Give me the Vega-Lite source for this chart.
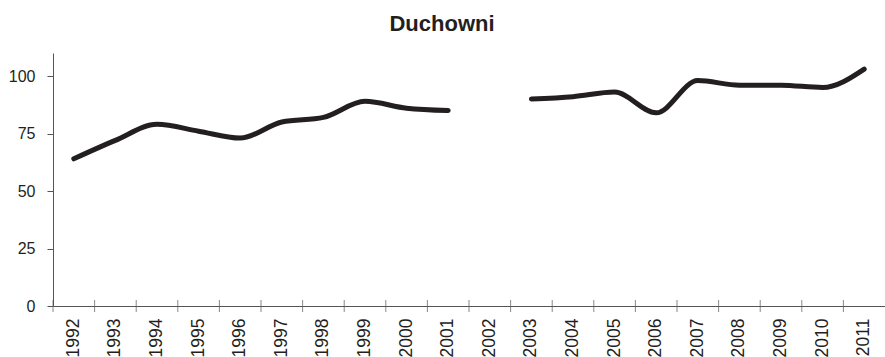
{
  "$schema": "https://vega.github.io/schema/vega-lite/v6.json",
  "width": 832,
  "height": 253,
  "autosize": "none",
  "padding": {"left": 53, "top": 53, "right": 0, "bottom": 51},
  "background": "white",
  "view": {"stroke": null},
  "title": {"text": "Duchowni", "font": "Liberation Sans", "fontSize": 22, "fontWeight": "bold", "color": "#231f20", "anchor": "middle", "offset": 17, "dx": -27},
  "data": {"values": [
    {"year": "1992", "value": 64},
    {"year": "1993", "value": 72},
    {"year": "1994", "value": 79},
    {"year": "1995", "value": 76},
    {"year": "1996", "value": 73},
    {"year": "1997", "value": 80},
    {"year": "1998", "value": 82},
    {"year": "1999", "value": 89},
    {"year": "2000", "value": 86},
    {"year": "2001", "value": 85},
    {"year": "2002", "value": null},
    {"year": "2003", "value": 90},
    {"year": "2004", "value": 91},
    {"year": "2005", "value": 93},
    {"year": "2006", "value": 84},
    {"year": "2007", "value": 98},
    {"year": "2008", "value": 96},
    {"year": "2009", "value": 96},
    {"year": "2010", "value": 95},
    {"year": "2011", "value": 103}
  ]},
  "encoding": {
    "x": {
      "field": "year", "type": "ordinal",
      "scale": {"type": "band", "paddingInner": 0, "paddingOuter": 0},
      "axis": {"title": null, "labelAngle": -90, "ticks": false, "labelFont": "Liberation Sans", "labelFontSize": 17.5, "labelColor": "#231f20", "domainColor": "#555", "labelPadding": 12}
    }
  },
  "layer": [
    {
      "mark": {"type": "tick", "orient": "vertical", "size": 12, "thickness": 1, "color": "#555"},
      "encoding": {
        "x": {"field": "year", "type": "ordinal", "bandPosition": 0},
        "y": {"datum": 0, "type": "quantitative"}
      }
    },
    {
      "mark": {"type": "line", "interpolate": "monotone", "color": "#231f20", "strokeWidth": 5, "strokeCap": "round"},
      "encoding": {
        "x": {"field": "year", "type": "ordinal", "bandPosition": 0.5},
        "y": {
          "field": "value", "type": "quantitative",
          "scale": {"domain": [0, 110], "nice": false},
          "axis": {"title": null, "values": [0, 25, 50, 75, 100], "grid": false, "labelFont": "Liberation Sans", "labelFontSize": 16, "labelColor": "#231f20", "domainColor": "#555", "tickColor": "#555", "tickSize": 6, "labelPadding": 12}
        }
      }
    }
  ]
}
